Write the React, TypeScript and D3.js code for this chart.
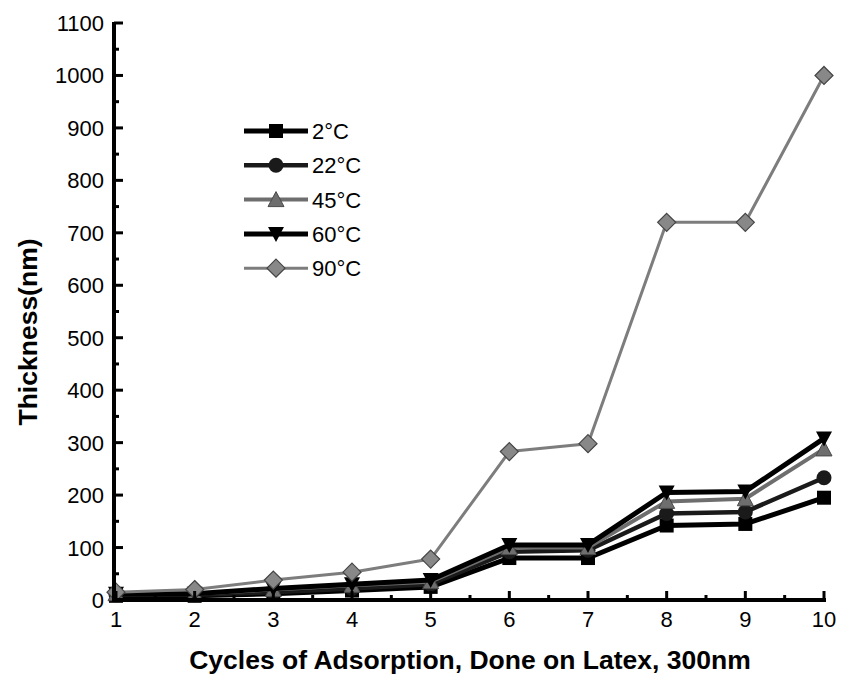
import React from "react";
import * as d3 from "d3";

const cycles = [1, 2, 3, 4, 5, 6, 7, 8, 9, 10];
const t2 = [8, 8, 12, 18, 25, 80, 80, 142, 145, 195];
const t22 = [10, 10, 15, 22, 30, 92, 95, 165, 168, 233];
const t45 = [12, 12, 20, 28, 35, 100, 100, 188, 193, 288];
const t60 = [12, 12, 22, 30, 38, 105, 105, 205, 207, 308];
const t90 = [15, 20, 38, 53, 78, 283, 298, 720, 720, 1000];
const yTicks = d3.range(0, 1101, 100);
const seriesNames = ["2°C", "22°C", "45°C", "60°C", "90°C"];

const W = 844;
const H = 677;
const left = 116;
const right = 824;
const top = 23;
const bottom = 600;

type Series = {
  name: string;
  values: number[];
  color: string;
  width: number;
  marker: "square" | "circle" | "tri" | "itri" | "diamond";
};

const series: Series[] = [
  { name: seriesNames[0], values: t2, color: "#000", width: 5, marker: "square" },
  { name: seriesNames[1], values: t22, color: "#1a1a1a", width: 4.5, marker: "circle" },
  { name: seriesNames[2], values: t45, color: "#6e6e6e", width: 4, marker: "tri" },
  { name: seriesNames[3], values: t60, color: "#000", width: 5, marker: "itri" },
  { name: seriesNames[4], values: t90, color: "#7d7d7d", width: 3, marker: "diamond" },
];

function Marker({ kind, x, y, color }: { kind: Series["marker"]; x: number; y: number; color: string }) {
  const s = 7;
  switch (kind) {
    case "square":
      return <rect x={x - s} y={y - s} width={2 * s} height={2 * s} fill={color} />;
    case "circle":
      return <circle cx={x} cy={y} r={s + 0.5} fill={color} />;
    case "tri":
      return (
        <path d={`M${x},${y - s - 1}L${x + s + 1},${y + s}L${x - s - 1},${y + s}Z`} fill={color} stroke="#4a4a4a" strokeWidth={1} />
      );
    case "itri":
      return <path d={`M${x - s - 1},${y - s}L${x + s + 1},${y - s}L${x},${y + s + 1}Z`} fill={color} />;
    case "diamond":
      return (
        <path
          d={`M${x},${y - s - 2}L${x + s + 2},${y}L${x},${y + s + 2}L${x - s - 2},${y}Z`}
          fill="#888"
          stroke="#444"
          strokeWidth={1.2}
        />
      );
  }
}

export default function App() {
  const x = d3.scaleLinear().domain([1, 10]).range([left, right]);
  const y = d3.scaleLinear().domain([0, 1100]).range([bottom, top]);
  const line = d3
    .line<number>()
    .x((_, i) => x(cycles[i]))
    .y((d) => y(d));

  const xMinor = d3.range(1.5, 10, 1);
  const yMinor = d3.range(50, 1100, 100);
  const font = "'Liberation Sans', Arial, sans-serif";

  const legendX = 244;
  const legendY0 = 131;
  const legendDy = 34.3;

  return (
    <svg width={W} height={H} style={{ position: "absolute", left: 0, top: 0, background: "#fff" }} fontFamily={font}>
      <rect width={W} height={H} fill="#fff" />
      {/* series */}
      {series.map((s) => (
        <g key={s.name}>
          <path d={line(s.values) ?? ""} fill="none" stroke={s.color} strokeWidth={s.width} strokeLinejoin="round" />
          {s.values.map((v, i) => (
            <Marker key={i} kind={s.marker} x={x(cycles[i])} y={y(v)} color={s.color} />
          ))}
        </g>
      ))}

      {/* axes */}
      <line x1={left - 4} x2={right + 2} y1={bottom} y2={bottom} stroke="#000" strokeWidth={4} />
      <line x1={left - 2} x2={left - 2} y1={top - 1} y2={bottom + 2} stroke="#000" strokeWidth={4} />
      {cycles.map((c) => (
        <g key={"xt" + c}>
          <line x1={x(c)} x2={x(c)} y1={bottom} y2={bottom - 9} stroke="#000" strokeWidth={3} />
          <text x={x(c)} y={bottom + 27} textAnchor="middle" fontSize={22}>
            {c}
          </text>
        </g>
      ))}
      {xMinor.map((c) => (
        <line key={"xm" + c} x1={x(c)} x2={x(c)} y1={bottom} y2={bottom - 5} stroke="#000" strokeWidth={3} />
      ))}
      {yTicks.map((t) => (
        <g key={"yt" + t}>
          <line x1={left - 2} x2={left + 7} y1={y(t)} y2={y(t)} stroke="#000" strokeWidth={3} />
          <text x={left - 12} y={y(t) + 8} textAnchor="end" fontSize={22}>
            {t}
          </text>
        </g>
      ))}
      {yMinor.map((t) => (
        <line key={"ym" + t} x1={left - 2} x2={left + 3} y1={y(t)} y2={y(t)} stroke="#000" strokeWidth={3} />
      ))}

      {/* axis titles */}
      <text x={470} y={669} textAnchor="middle" fontSize={26.5} fontWeight="bold">
        Cycles of Adsorption, Done on Latex, 300nm
      </text>
      <text transform={`translate(37, 332) rotate(-90)`} textAnchor="middle" fontSize={26.5} fontWeight="bold">
        Thickness(nm)
      </text>

      {/* legend */}
      {series.map((s, i) => {
        const ly = legendY0 + i * legendDy;
        return (
          <g key={"lg" + s.name}>
            <line x1={legendX} x2={legendX + 64} y1={ly} y2={ly} stroke={s.color} strokeWidth={s.width} />
            <Marker kind={s.marker} x={legendX + 32} y={ly} color={s.color} />
            <text x={legendX + 68} y={ly + 8} fontSize={22}>
              {s.name}
            </text>
          </g>
        );
      })}
    </svg>
  );
}
